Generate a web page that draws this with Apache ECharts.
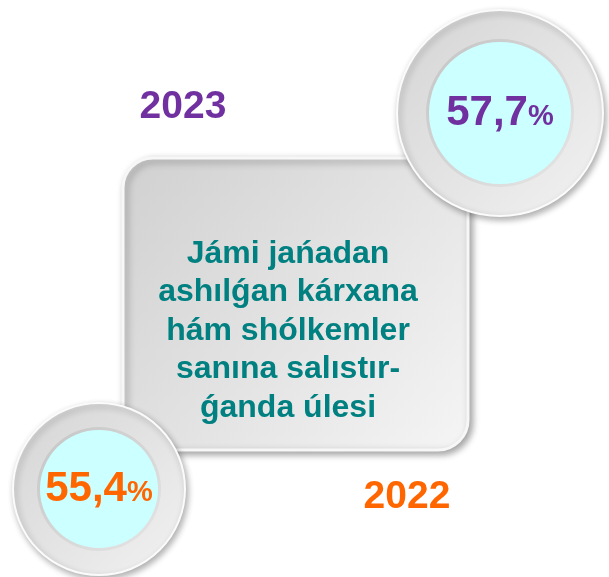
<!DOCTYPE html>
<html>
<head>
<meta charset="utf-8">
<script src="https://cdn.jsdelivr.net/npm/echarts@6/dist/echarts.min.js"></script>
<style>
  html, body { margin: 0; padding: 0; background: #fff; }
  #chart { width: 609px; height: 577px; }
</style>
</head>
<body>
<div id="chart"></div>
<script>
  const years = ['2023', '2022']
  const shares = [57.7, 55.4]
  const yearColors = ['#7030a0', '#ff6600']
  const captionLines = ['Jámi jańadan', 'ashılǵan kárxana', 'hám shólkemler', 'sanına salıstır-', 'ǵanda úlesi']

  // badge layout (px)
  const badgeLayout = [
    { center: [500, 113], outer: 103, inner: 71, yearPos: [183, 107] },
    { center: [99, 489], outer: 86, inner: 59, yearPos: [407, 497] }
  ]

  const FONT = '"Liberation Sans", Arial, sans-serif'
  const LG = echarts.graphic.LinearGradient

  const fmt = v => String(v).replace('.', ',')

  const chart = echarts.init(document.getElementById('chart'))

  function badgeSeries(i) {
    const b = badgeLayout[i]
    const common = {
      type: 'pie',
      center: b.center,
      silent: true,
      animation: false,
      emphasis: { disabled: true },
      labelLine: { show: false }
    }
    return [
      {
        ...common,
        radius: [0, b.outer],
        z: 2,
        label: { show: false },
        itemStyle: {
          color: new LG(0, 0, 1, 1, [
            { offset: 0, color: '#d4d4d4' },
            { offset: 1, color: '#f2f2f2' }
          ]),
          borderColor: '#fbfbfb',
          borderWidth: 2,
          shadowBlur: 6,
          shadowOffsetX: 2,
          shadowOffsetY: 3,
          shadowColor: 'rgba(0,0,0,0.3)'
        },
        data: [{ value: shares[i], name: years[i] }]
      },
      {
        ...common,
        radius: [0, b.inner + 3],
        z: 3,
        label: { show: false },
        itemStyle: {
          color: new LG(0, 0, 1, 1, [
            { offset: 0, color: '#c4c4c4' },
            { offset: 1, color: '#e6e6e6' }
          ])
        },
        data: [{ value: shares[i], name: years[i] }]
      },
      {
        ...common,
        radius: [0, b.inner],
        z: 4,
        itemStyle: { color: '#ccffff' },
        label: {
          show: true,
          position: 'center',
          formatter: p => `{v|${fmt(p.value)}}{p|%}`,
          rich: {
            v: { fontSize: 42, fontWeight: 'bold', fontFamily: FONT, color: yearColors[i], verticalAlign: 'bottom' },
            p: { fontSize: 29, fontWeight: 'bold', fontFamily: FONT, color: yearColors[i], verticalAlign: 'bottom', padding: [0, 0, 3, 0] }
          }
        },
        data: [{ value: shares[i], name: years[i] }]
      }
    ]
  }

  chart.setOption({
    backgroundColor: '#ffffff',
    graphic: [
      {
        type: 'rect',
        z: 1,
        shape: { x: 123, y: 158, width: 345, height: 292, r: 30 },
        style: {
          fill: new LG(0, 0, 1, 1, [
            { offset: 0, color: '#d0d0d0' },
            { offset: 1, color: '#f5f5f5' }
          ]),
          stroke: '#f7f7f7',
          lineWidth: 3,
          shadowBlur: 7,
          shadowOffsetX: 3,
          shadowOffsetY: 3,
          shadowColor: 'rgba(0,0,0,0.35)'
        }
      },
      {
        type: 'text',
        z: 1,
        x: 288,
        y: 331,
        style: {
          text: captionLines.join('\n'),
          align: 'center',
          verticalAlign: 'middle',
          font: 'bold 32px ' + FONT,
          lineHeight: 38.5,
          fill: '#008080'
        }
      },
      ...years.map((y, i) => ({
        type: 'text',
        z: 1,
        x: badgeLayout[i].yearPos[0],
        y: badgeLayout[i].yearPos[1],
        style: {
          text: y,
          align: 'center',
          verticalAlign: 'middle',
          font: 'bold 39px ' + FONT,
          fill: yearColors[i]
        }
      }))
    ],
    series: [...badgeSeries(0), ...badgeSeries(1)]
  })
</script>
</body>
</html>
